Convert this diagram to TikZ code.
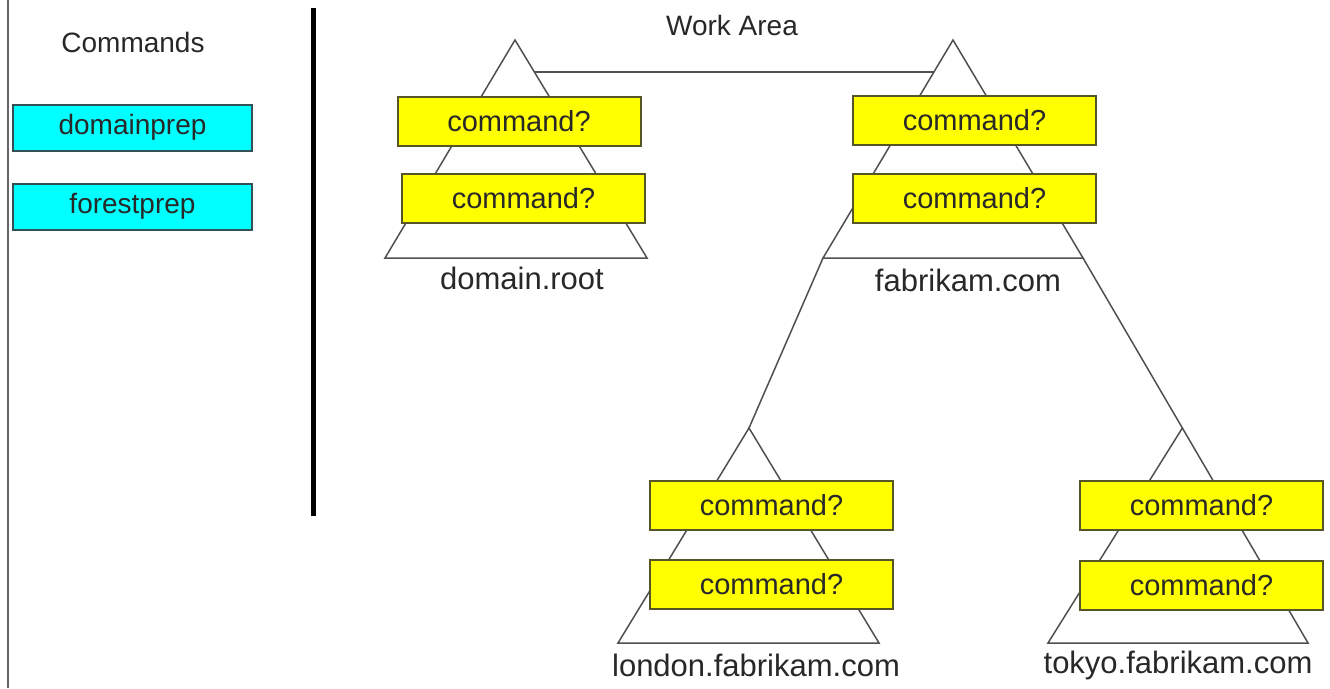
\documentclass[tikz,border=0pt]{standalone}
\usepackage{fontspec}
\setmainfont{Liberation Sans}
\usetikzlibrary{calc}
\definecolor{boxyellow}{RGB}{255,255,0}
\definecolor{boxedge}{RGB}{85,85,40}
\definecolor{toolcyan}{RGB}{0,255,255}
\definecolor{tooledge}{RGB}{50,80,85}
\definecolor{txt}{RGB}{40,40,40}
\definecolor{treeline}{RGB}{80,80,80}
\tikzset{
  cmdbox/.style={draw=boxedge, line width=2pt, fill=boxyellow, minimum width=243pt, minimum height=49pt, inner sep=0pt, text=txt, font=\fontsize{29}{29}\selectfont},
  toolbox/.style={draw=tooledge, line width=2pt, fill=toolcyan, minimum width=239pt, minimum height=46pt, inner sep=0pt, text=txt, font=\fontsize{28}{28}\selectfont},
  treelabel/.style={inner sep=0pt, text=txt, font=\fontsize{31}{31}\selectfont},
  heading/.style={inner sep=0pt, text=txt, font=\fontsize{28}{28}\selectfont},
  tree/.style={draw=treeline, line width=1.5pt, line join=miter},
  link/.style={draw=treeline, line width=1.5pt}
}
\begin{document}
\begin{tikzpicture}[x=1pt, y=-1pt]
\useasboundingbox (0,0) rectangle (1330,688);
\fill[white] (0,0) rectangle (1330,688);
% frame lines
\coordinate (lt) at (8,0);
\coordinate (lb) at (8,688);
\draw[draw=gray!80!black, line width=2pt] (lt) -- (lb);
\coordinate (st) at (313,8);
\coordinate (sb) at (313,516);
\draw[black, line width=5pt] (st) -- (sb);
% headings
\node[heading] (cmds) at (133,42) {Commands};
\node[heading] (work) at (732,25) {Work Area};
% tool boxes
\node[toolbox] (dprep) at (132.5,127.5) {domainprep};
\node[toolbox] (fprep) at (132.5,206.5) {forestprep};
% tree coordinates
\coordinate (dA) at (515,40);
\coordinate (dL) at (385,258);
\coordinate (dR) at (647,258);
\coordinate (fA) at (953,40);
\coordinate (fL) at (823,258);
\coordinate (fR) at (1083,258);
\coordinate (lA) at (749,428);
\coordinate (lL) at (618,643);
\coordinate (lR) at (879,643);
\coordinate (tR) at (1308,643);
\coordinate (tL) at (1048,643);
\coordinate (tA) at ($(fR)!0.4416!(tR)$);
% triangles
\draw[tree] (dA) -- (dL) -- (dR) -- cycle;
\draw[tree] (fA) -- (fL) -- (fR) -- cycle;
\draw[tree] (lA) -- (lL) -- (lR) -- cycle;
\draw[tree] (fL) -- (lA);
\draw[tree] (fR) -- (tR) -- (tL) -- (tA);
% link between roots
\draw[link] ($(dA)!0.1468!(dR)$) -- ($(fA)!0.1468!(fL)$);
% command boxes
\node[cmdbox] (d1) at (519,121.5) {command?};
\node[cmdbox] (d2) at (523.5,198.5) {command?};
\node[cmdbox] (f1) at (974.5,120) {command?};
\node[cmdbox] (f2) at (974.5,198) {command?};
\node[cmdbox] (l1) at (771.5,505.5) {command?};
\node[cmdbox] (l2) at (771.5,584) {command?};
\node[cmdbox] (t1) at (1201.5,505.5) {command?};
\node[cmdbox] (t2) at (1201.5,585) {command?};
% labels
\node[treelabel] (dlab) at (522,278) {domain.root};
\node[treelabel] (flab) at (968,280) {fabrikam.com};
\node[treelabel] (llab) at (756,665) {london.fabrikam.com};
\node[treelabel] (tlab) at (1178,665) {tokyo.fabrikam.com};
\end{tikzpicture}
\end{document}
